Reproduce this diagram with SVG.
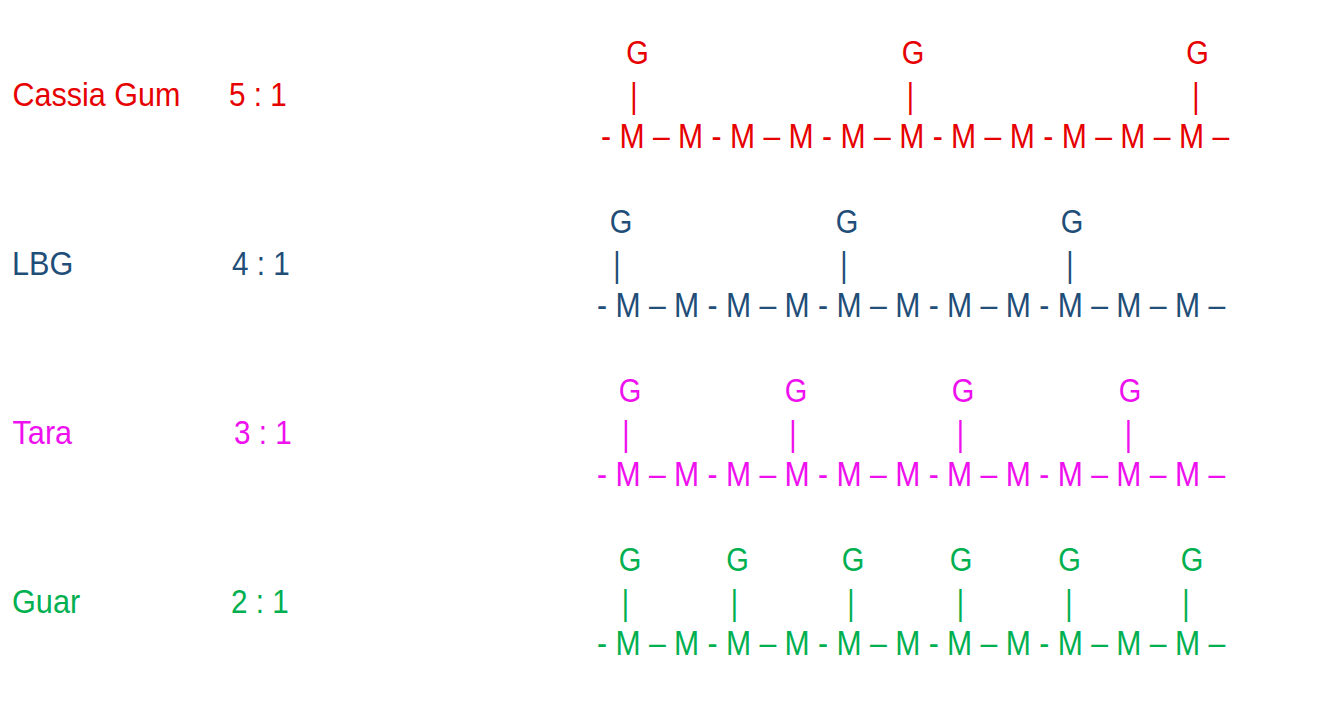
<svg xmlns="http://www.w3.org/2000/svg" width="1342" height="715" viewBox="0 0 1342 715">
<style>
text{font-family:"Liberation Sans",Arial,sans-serif;}
.lbl{font-size:33px;}
.g{font-size:33px;text-anchor:middle;}
.p{font-size:35px;text-anchor:middle;}
.ch{font-size:35px;}
.red{fill:#E60000;}
.blue{fill:#1F4E79;}
.mag{fill:#EE10EE;}
.grn{fill:#00B050;}
</style>
<rect width="1342" height="715" fill="#FFFFFF"/>

<g id="cassia" class="red">
<text class="lbl" transform="translate(12.5,106) scale(0.925,1)">Cassia Gum</text>
<text class="lbl" transform="translate(229,106) scale(0.9,1)">5 : 1</text>
<text class="g" transform="translate(637.5,64) scale(0.88,1)">G</text>
<text class="g" transform="translate(913,64) scale(0.88,1)">G</text>
<text class="g" transform="translate(1197.5,64) scale(0.88,1)">G</text>
<text class="p" transform="translate(634,107.5) scale(0.8,1)">|</text>
<text class="p" transform="translate(910.5,107.5) scale(0.8,1)">|</text>
<text class="p" transform="translate(1196,107.5) scale(0.8,1)">|</text>
<text class="ch" transform="translate(601,148) scale(0.862,1)">- M – M - M – M - M – M - M – M - M – M – M –</text>
</g>

<g id="lbg" class="blue">
<text class="lbl" transform="translate(12,275) scale(0.93,1)">LBG</text>
<text class="lbl" transform="translate(232,275) scale(0.9,1)">4 : 1</text>
<text class="g" transform="translate(621,233) scale(0.88,1)">G</text>
<text class="g" transform="translate(847,233) scale(0.88,1)">G</text>
<text class="g" transform="translate(1072,233) scale(0.88,1)">G</text>
<text class="p" transform="translate(617,276.5) scale(0.8,1)">|</text>
<text class="p" transform="translate(844,276.5) scale(0.8,1)">|</text>
<text class="p" transform="translate(1070,276.5) scale(0.8,1)">|</text>
<text class="ch" transform="translate(597,317) scale(0.862,1)">- M – M - M – M - M – M - M – M - M – M – M –</text>
</g>

<g id="tara" class="mag">
<text class="lbl" transform="translate(12.5,444) scale(0.93,1)">Tara</text>
<text class="lbl" transform="translate(234,444) scale(0.9,1)">3 : 1</text>
<text class="g" transform="translate(630,402) scale(0.88,1)">G</text>
<text class="g" transform="translate(796,402) scale(0.88,1)">G</text>
<text class="g" transform="translate(963,402) scale(0.88,1)">G</text>
<text class="g" transform="translate(1130,402) scale(0.88,1)">G</text>
<text class="p" transform="translate(626,445.5) scale(0.8,1)">|</text>
<text class="p" transform="translate(793,445.5) scale(0.8,1)">|</text>
<text class="p" transform="translate(960.5,445.5) scale(0.8,1)">|</text>
<text class="p" transform="translate(1128.5,445.5) scale(0.8,1)">|</text>
<text class="ch" transform="translate(597,486) scale(0.862,1)">- M – M - M – M - M – M - M – M - M – M – M –</text>
</g>

<g id="guar" class="grn">
<text class="lbl" transform="translate(12,613) scale(0.93,1)">Guar</text>
<text class="lbl" transform="translate(231,613) scale(0.9,1)">2 : 1</text>
<text class="g" transform="translate(630,571) scale(0.88,1)">G</text>
<text class="g" transform="translate(737.5,571) scale(0.88,1)">G</text>
<text class="g" transform="translate(853,571) scale(0.88,1)">G</text>
<text class="g" transform="translate(961,571) scale(0.88,1)">G</text>
<text class="g" transform="translate(1069.5,571) scale(0.88,1)">G</text>
<text class="g" transform="translate(1192,571) scale(0.88,1)">G</text>
<text class="p" transform="translate(625.5,614.5) scale(0.8,1)">|</text>
<text class="p" transform="translate(734.5,614.5) scale(0.8,1)">|</text>
<text class="p" transform="translate(851,614.5) scale(0.8,1)">|</text>
<text class="p" transform="translate(960.5,614.5) scale(0.8,1)">|</text>
<text class="p" transform="translate(1069,614.5) scale(0.8,1)">|</text>
<text class="p" transform="translate(1186,614.5) scale(0.8,1)">|</text>
<text class="ch" transform="translate(597,655) scale(0.862,1)">- M – M - M – M - M – M - M – M - M – M – M –</text>
</g>

<g id="connectors"></g>
</svg>
